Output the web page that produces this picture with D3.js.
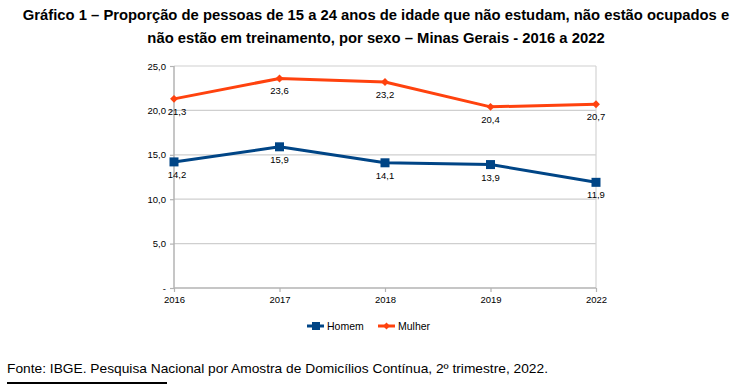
<!DOCTYPE html>
<html><head><meta charset="utf-8">
<script src="https://cdn.jsdelivr.net/npm/d3@7"></script>
<style>body{margin:0;background:#fff}svg{display:block}</style>
</head><body>
<script>
const years = ["2016","2017","2018","2019","2022"];
const homem = [14.2,15.9,14.1,13.9,11.9];
const mulher = [21.3,23.6,23.2,20.4,20.7];
const yTicks = [0,5,10,15,20,25];
const seriesNames = ["Homem","Mulher"];
const titleLines = ["Gráfico 1 – Proporção de pessoas de 15 a 24 anos de idade que não estudam, não estão ocupados e","não estão em treinamento, por sexo – Minas Gerais - 2016 a 2022"];
const source = "Fonte: IBGE. Pesquisa Nacional por Amostra de Domicílios Contínua, 2º trimestre, 2022.";

const W=751,H=390;
const svg=d3.select("body").append("svg").attr("width",W).attr("height",H);
const colors={Homem:"#004586",Mulher:"#ff420e"};
const m={l:174,r:596,t:66,b:288};
const x=d3.scalePoint().domain(years).range([m.l,m.r]);
const y=d3.scaleLinear().domain([0,25]).range([m.b,m.t]);
const fmt=v=>v===0?"-":d3.format(".1f")(v).replace(".",",");
const fmtL=v=>d3.format(".1f")(v).replace(".",",");

// title
svg.selectAll("text.title").data(titleLines).enter().append("text")
 .attr("x",376).attr("y",(d,i)=>20+i*23).attr("text-anchor","middle")
 .attr("font-family","'Liberation Sans Narrow','Arial Narrow','Liberation Sans',Arial,sans-serif").attr("font-weight","bold")
 .attr("font-size",14.8).attr("fill","#000").text(d=>d);

// grid
svg.append("g").selectAll("line").data(yTicks.filter(d=>d>0)).enter().append("line")
 .attr("x1",m.l).attr("x2",m.r).attr("y1",d=>y(d)).attr("y2",d=>y(d))
 .attr("stroke","#cfcfcf").attr("stroke-width",1.2);
svg.append("line").attr("x1",m.r).attr("x2",m.r).attr("y1",m.t).attr("y2",m.b).attr("stroke","#d4d4d4").attr("stroke-width",1.2);

// axes
const yAxis=svg.append("g").attr("transform",`translate(${m.l},0)`)
 .call(d3.axisLeft(y).tickValues(yTicks).tickFormat(fmt).tickSize(4).tickPadding(4));
const xAxis=svg.append("g").attr("transform",`translate(0,${m.b})`)
 .call(d3.axisBottom(x).tickSize(4).tickPadding(4));
[yAxis,xAxis].forEach(g=>{
 g.select(".domain").attr("stroke","#b3b3b3").attr("stroke-width",1.5);
 g.selectAll(".tick line").attr("stroke","#b3b3b3").attr("stroke-width",1.2);
 g.selectAll("text").attr("font-family","'Liberation Sans',Arial,sans-serif").attr("font-size",9.5).attr("fill","#000");
});
xAxis.select(".domain").attr("d",`M${m.l},0H${m.r}`);
yAxis.select(".domain").attr("d",`M0,${m.t}V${m.b}`);

// lines
const data={Homem:homem,Mulher:mulher};
const line=d3.line().x((d,i)=>x(years[i])).y(d=>y(d));
seriesNames.forEach(s=>{
 const g=svg.append("g");
 g.append("path").datum(data[s]).attr("d",line).attr("fill","none").attr("stroke",colors[s]).attr("stroke-width",3).attr("stroke-linejoin","round");
 if(s==="Homem"){
  g.selectAll("rect").data(data[s]).enter().append("rect")
   .attr("x",(d,i)=>x(years[i])-4.5).attr("y",d=>y(d)-4.5).attr("width",9).attr("height",9).attr("fill",colors[s]);
 } else {
  g.selectAll("path.pt").data(data[s]).enter().append("path").attr("class","pt")
   .attr("d",d3.symbol().type(d3.symbolDiamond2).size(40))
   .attr("transform",(d,i)=>`translate(${x(years[i])},${y(d)})`).attr("fill",colors[s]);
 }
 g.selectAll("text").data(data[s]).enter().append("text")
  .attr("x",(d,i)=>x(years[i])+(i===0?3:0)).attr("y",d=>y(d)+16).attr("text-anchor","middle")
  .attr("font-family","'Liberation Sans',Arial,sans-serif").attr("font-size",9.5).attr("fill","#000").text(fmtL);
});

// legend
const leg=[{n:"Homem",x:307},{n:"Mulher",x:378}];
leg.forEach(L=>{
 const g=svg.append("g");
 g.append("line").attr("x1",L.x).attr("x2",L.x+17).attr("y1",326).attr("y2",326).attr("stroke",colors[L.n]).attr("stroke-width",3);
 if(L.n==="Homem") g.append("rect").attr("x",L.x+5).attr("y",322).attr("width",8).attr("height",8).attr("fill",colors[L.n]);
 else g.append("path").attr("d",d3.symbol().type(d3.symbolDiamond2).size(30)).attr("transform",`translate(${L.x+8.5},326)`).attr("fill",colors[L.n]);
 g.append("text").attr("x",L.x+20).attr("y",329.5).attr("font-family","'Liberation Sans',Arial,sans-serif").attr("font-size",10.5).attr("fill","#000").text(L.n);
});

// source
svg.append("text").attr("x",7).attr("y",373).attr("font-family","'Liberation Sans',Arial,sans-serif").attr("font-size",13.5)
 .attr("textLength",541).attr("lengthAdjust","spacingAndGlyphs").attr("fill","#000").text(source);
svg.append("line").attr("x1",7).attr("x2",167).attr("y1",383).attr("y2",383).attr("stroke","#000").attr("stroke-width",2);
</script>
</body></html>
